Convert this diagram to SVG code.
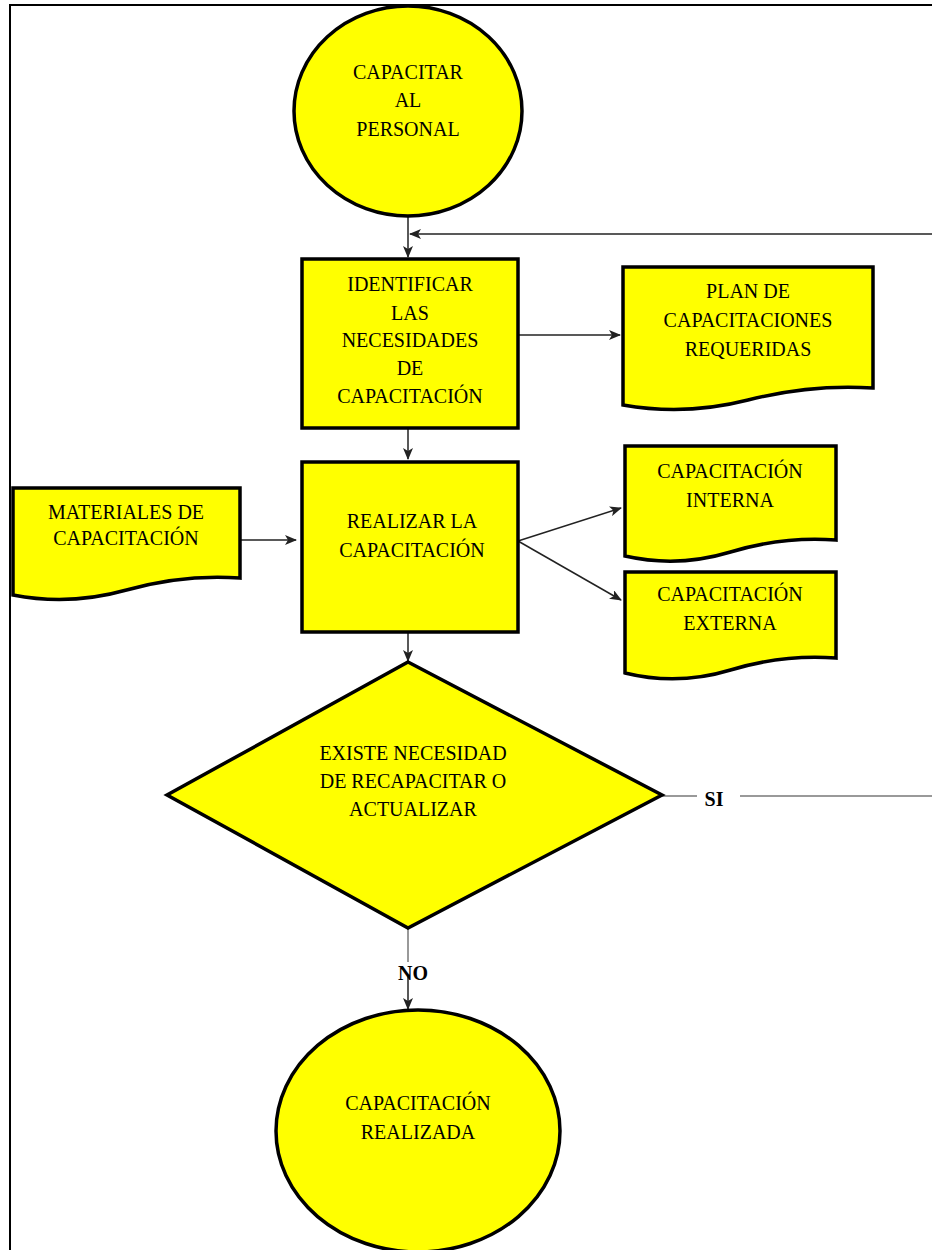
<svg xmlns="http://www.w3.org/2000/svg" width="932" height="1250" viewBox="0 0 932 1250">
  <defs>
    <style>
      .shape { fill: #ffff00; stroke: #000; stroke-width: 3.5; }
      .lbl { font-family: "Liberation Serif", "Times New Roman", serif; font-size: 20px; fill: #000; text-anchor: middle; }
      .tag { font-family: "Liberation Serif", "Times New Roman", serif; font-size: 20px; font-weight: bold; fill: #000; text-anchor: middle; }
      .wire { fill: none; stroke: #222; stroke-width: 1.5; }
      .wire-grey { fill: none; stroke: #999; stroke-width: 2; }
      .frame { fill: none; stroke: #000; stroke-width: 2; }
    </style>
    <marker id="arrow" viewBox="0 0 12 10" refX="11" refY="5" markerWidth="12" markerHeight="10" markerUnits="userSpaceOnUse" orient="auto">
      <path d="M0,0 L12,5 L0,10 L3,5 Z" fill="#222"/>
    </marker>
  </defs>

  <rect width="932" height="1250" fill="#fff"/>
  <!-- page frame -->
  <path class="frame" d="M10,1250 V5 H932"/>

  <!-- connectors -->
  <g id="connectors">
    <path class="wire" d="M408,217 V257" marker-end="url(#arrow)"/>
    <path class="wire" d="M932,234 H410" marker-end="url(#arrow)"/>
    <path class="wire" d="M518,335 H620" marker-end="url(#arrow)"/>
    <path class="wire" d="M408,428 V459" marker-end="url(#arrow)"/>
    <path class="wire" d="M240,540 H296" marker-end="url(#arrow)"/>
    <path class="wire" d="M518,541 L621,508" marker-end="url(#arrow)"/>
    <path class="wire" d="M518,541 L621,600" marker-end="url(#arrow)"/>
    <path class="wire" d="M408,632 V661" marker-end="url(#arrow)"/>
    <path class="wire-grey" d="M662,796 H697 M740,796 H932"/>
    <path class="wire-grey" d="M408,928 V962"/>
    <path class="wire" d="M408,975 V1009" marker-end="url(#arrow)"/>
    <text class="tag" x="714" y="806">SI</text>
    <text class="tag" x="413" y="980">NO</text>
  </g>

  <!-- start -->
  <g id="capacitar">
    <ellipse class="shape" cx="408" cy="111" rx="114" ry="105"/>
    <text class="lbl" x="408" y="79">CAPACITAR</text>
    <text class="lbl" x="408" y="107">AL</text>
    <text class="lbl" x="408" y="136">PERSONAL</text>
  </g>

  <g id="identificar">
    <rect class="shape" x="302" y="259" width="216" height="169"/>
    <text class="lbl" x="410" y="291">IDENTIFICAR</text>
    <text class="lbl" x="410" y="320">LAS</text>
    <text class="lbl" x="410" y="347">NECESIDADES</text>
    <text class="lbl" x="410" y="375">DE</text>
    <text class="lbl" x="410" y="403">CAPACITACIÓN</text>
  </g>

  <g id="plan">
    <path class="shape" d="M623,267 H873 V388 q-62.5,-4 -125,12 t-125,5 Z"/>
    <text class="lbl" x="748" y="298">PLAN DE</text>
    <text class="lbl" x="748" y="327">CAPACITACIONES</text>
    <text class="lbl" x="748" y="356">REQUERIDAS</text>
  </g>

  <g id="realizar">
    <rect class="shape" x="302" y="462" width="216" height="170"/>
    <text class="lbl" x="412" y="528">REALIZAR LA</text>
    <text class="lbl" x="412" y="557">CAPACITACIÓN</text>
  </g>

  <g id="materiales">
    <path class="shape" d="M13,488 H240 V578 q-56.75,-4 -113.5,12 t-113.5,5 Z"/>
    <text class="lbl" x="126" y="519">MATERIALES DE</text>
    <text class="lbl" x="126" y="545">CAPACITACIÓN</text>
  </g>

  <g id="interna">
    <path class="shape" d="M625,446 H836 V540 q-52.75,-4 -105.5,12 t-105.5,4 Z"/>
    <text class="lbl" x="730" y="478">CAPACITACIÓN</text>
    <text class="lbl" x="730" y="507">INTERNA</text>
  </g>

  <g id="externa">
    <path class="shape" d="M625,572 H836 V658 q-52.75,-4 -105.5,12 t-105.5,3 Z"/>
    <text class="lbl" x="730" y="601">CAPACITACIÓN</text>
    <text class="lbl" x="730" y="630">EXTERNA</text>
  </g>

  <g id="decision">
    <path class="shape" d="M408,662 L662,795 L408,928 L167,795 Z"/>
    <text class="lbl" x="413" y="760">EXISTE NECESIDAD</text>
    <text class="lbl" x="413" y="788">DE RECAPACITAR O</text>
    <text class="lbl" x="413" y="816">ACTUALIZAR</text>
  </g>

  <!-- end -->
  <g id="realizada">
    <ellipse class="shape" cx="418" cy="1131" rx="142" ry="121"/>
    <text class="lbl" x="418" y="1110">CAPACITACIÓN</text>
    <text class="lbl" x="418" y="1139">REALIZADA</text>
  </g>
</svg>
